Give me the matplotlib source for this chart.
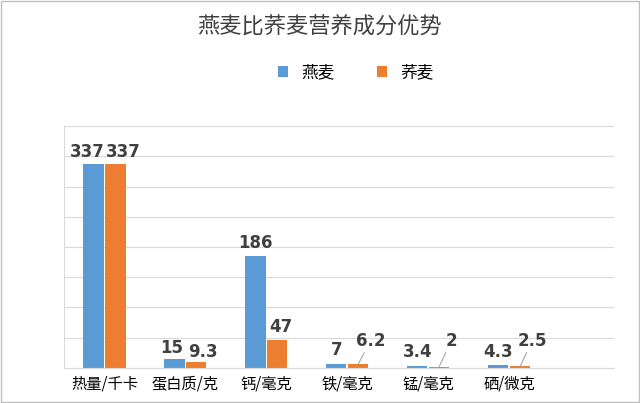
import matplotlib
matplotlib.use("Agg")
import matplotlib.pyplot as plt
import numpy as np

plt.rcParams['font.family'] = ['Noto Sans CJK SC', 'DejaVu Sans']

categories = ["热量/千卡", "蛋白质/克", "钙/毫克", "铁/毫克", "锰/毫克", "硒/微克"]
oat = [337, 15, 186, 7, 3.4, 4.3]
buckwheat = [337, 9.3, 47, 6.2, 2, 2.5]
oat_labels = ["337", "15", "186", "7", "3.4", "4.3"]
bw_labels = ["337", "9.3", "47", "6.2", "2", "2.5"]

fig = plt.figure(figsize=(6.4, 4.03), dpi=100)
ax = fig.add_axes([0.10, 0.087, 0.86, 0.60])
x = np.arange(len(categories))
w = 0.25
c1, c2 = "#5B9BD5", "#ED7D31"
ax.bar(x - w/2 - 0.01, oat, w, color=c1, label="燕麦")
ax.bar(x + w/2 + 0.01, buckwheat, w, color=c2, label="荞麦")
ax.set_ylim(0, 400)
ax.set_xlim(-0.5, 6.3)
ax.set_yticks(np.arange(0, 401, 50))
ax.yaxis.grid(True, color="#d9d9d9", lw=0.8)
ax.set_axisbelow(True)
ax.tick_params(axis='y', left=False, labelleft=False)
ax.tick_params(axis='x', bottom=False, labelsize=11, pad=2)
ax.set_xticks(x)
ax.set_xticklabels(categories)
for s in ["top", "right", "left"]:
    ax.spines[s].set_visible(False)
ax.spines["bottom"].set_color("#d9d9d9")
ax.axvline(-0.5, color="#d9d9d9", lw=0.8)

fs = dict(fontsize=12, fontweight="bold", color="#404040", ha="center", family="DejaVu Sans")
for i in range(len(categories)):
    xo, xb = x[i] - w/2 - 0.01, x[i] + w/2 + 0.01
    if i == 0:
        ax.text(xo - 0.08, oat[i] + 6, oat_labels[i], va="bottom", **fs)
        ax.text(xb + 0.1, buckwheat[i] + 6, bw_labels[i], va="bottom", **fs)
    elif i == 2:
        ax.text(xo, oat[i] + 6, oat_labels[i], va="bottom", **fs)
        ax.text(xb + 0.05, buckwheat[i] + 6, bw_labels[i], va="bottom", **fs)
    elif i == 1:
        ax.text(xo - 0.03, oat[i] + 3, oat_labels[i], va="bottom", **fs)
        ax.text(xb + 0.08, buckwheat[i] + 3, bw_labels[i], va="bottom", **fs)
    else:
        ax.text(xo, oat[i] + 8, oat_labels[i], va="bottom", **fs)
        ax.annotate(bw_labels[i], xy=(xb, buckwheat[i]), xytext=(xb + 0.15, 30),
                    va="bottom", arrowprops=dict(arrowstyle="-", color="#a6a6a6", lw=0.8,
                                                 shrinkA=0, shrinkB=0), **fs)

fig.text(0.5, 0.933, "燕麦比荞麦营养成分优势", ha="center", va="center", fontsize=16, color="#404040")
ax.legend(loc="center", bbox_to_anchor=(0.53, 1.22), ncol=2, frameon=False,
          fontsize=12, handlelength=0.6, handleheight=0.6, columnspacing=2.5)
fig.patches.append(plt.Rectangle((0.002, 0.002), 0.996, 0.996, transform=fig.transFigure,
                                 fill=False, edgecolor="#bfbfbf", lw=1))
fig.savefig("out.png", dpi=100)
